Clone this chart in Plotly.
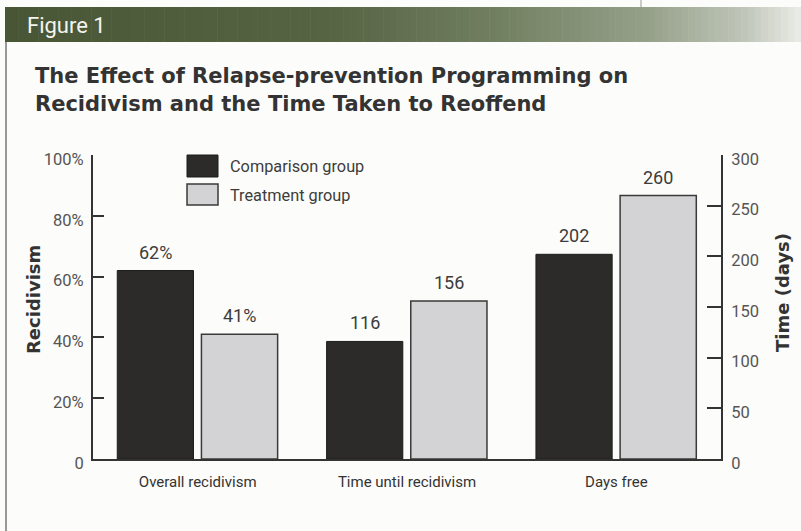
import plotly.graph_objects as go

# Data
categories = ["Overall recidivism", "Time until recidivism", "Days free"]
recid_comparison = [62]          # % reoffended, comparison group
recid_treatment = [41]           # % reoffended, treatment group
days_categories = ["Time until recidivism", "Days free"]
days_comparison = [116, 202]     # days
days_treatment = [156, 260]      # days
pct_ticks = [0, 20, 40, 60, 80, 100]
pct_labels = ["0", "20%", "40%", "60%", "80%", "100%"]
day_ticks = [0, 50, 100, 150, 200, 250, 300]
day_labels = ["0", "50", "100", "150", "200", "250", "300"]
series_names = ["Comparison group", "Treatment group"]

W, H = 801, 531
L, R, T, B = 93, 80, 155, 72
PW, PH = W - L - R, H - T - B

NARROW = "Roboto, Liberation Sans, Arial, sans-serif"
BOLD = "DejaVu Sans, Verdana, sans-serif"
DARK = "#2d2b29"
LIGHT = "#d3d3d6"
INK = "#333333"
BG = "#fcfcfa"


def px(x):
    return (x - L) / PW


def py(y):
    return (H - B - y) / PH


bar_w = 0.364
off_comp, off_treat = -0.384, 0.018
cat_px = PW / len(categories)

fig = go.Figure()
fig.add_trace(go.Bar(x=categories[:1], y=recid_comparison, name=series_names[0],
                     width=bar_w, offset=off_comp, yaxis="y",
                     marker=dict(color=DARK, line=dict(color="#1c1c1c", width=1))))
fig.add_trace(go.Bar(x=categories[:1], y=recid_treatment, name=series_names[1],
                     width=bar_w, offset=off_treat, yaxis="y",
                     marker=dict(color=LIGHT, line=dict(color="#3a3a3a", width=1.5))))
fig.add_trace(go.Bar(x=days_categories, y=days_comparison, name=series_names[0],
                     width=bar_w, offset=off_comp, yaxis="y2",
                     marker=dict(color=DARK, line=dict(color="#1c1c1c", width=1))))
fig.add_trace(go.Bar(x=days_categories, y=days_treatment, name=series_names[1],
                     width=bar_w, offset=off_treat, yaxis="y2",
                     marker=dict(color=LIGHT, line=dict(color="#3a3a3a", width=1.5))))

# Value labels above each bar
value_labels = []
for cats, vals, off, yref, fmt in [
        (categories[:1], recid_comparison, off_comp, "y", "{}%"),
        (categories[:1], recid_treatment, off_treat, "y", "{}%"),
        (days_categories, days_comparison, off_comp, "y2", "{}"),
        (days_categories, days_treatment, off_treat, "y2", "{}")]:
    for c, v in zip(cats, vals):
        value_labels.append(dict(
            x=c, y=v, xref="x", yref=yref, text=fmt.format(v), showarrow=False,
            xanchor="center", yanchor="bottom",
            xshift=(off + bar_w / 2) * cat_px, yshift=6,
            font=dict(family=NARROW, size=18, color="#3c3c3c")))

shapes = []
# Header band: olive gradient fading to light grey on the right
y0h, y1h = py(42), py(7)
stops = [(5, (72, 86, 54)), (330, (86, 100, 68)), (500, (114, 128, 98)),
         (650, (150, 161, 138)), (745, (192, 198, 186)), (801, (234, 236, 231))]
n = 120
for i in range(n):
    xa = 5 + (W - 5) * i / n
    xb = 5 + (W - 5) * (i + 1) / n + 0.6
    xm = (xa + xb) / 2
    for (p0, c0), (p1, c1) in zip(stops[:-1], stops[1:]):
        if p0 <= xm <= p1:
            t = (xm - p0) / (p1 - p0)
            c = tuple(round(a + (b - a) * t) for a, b in zip(c0, c1))
            break
    shapes.append(dict(type="rect", xref="paper", yref="paper",
                       x0=px(xa), x1=px(xb), y0=y0h, y1=y1h,
                       fillcolor="rgb(%d,%d,%d)" % c, line=dict(width=0),
                       layer="below"))
# Panel border lines
shapes.append(dict(type="line", xref="paper", yref="paper", x0=px(6), x1=px(6),
                   y0=py(42), y1=py(531), line=dict(color="#777", width=1.5)))
shapes.append(dict(type="line", xref="paper", yref="paper", x0=px(641), x1=px(641),
                   y0=py(0), y1=py(7), line=dict(color="#999", width=1)))
# Legend swatches
shapes.append(dict(type="rect", xref="paper", yref="paper", x0=px(187), x1=px(218),
                   y0=py(177), y1=py(155), fillcolor=DARK,
                   line=dict(color="#1c1c1c", width=1)))
shapes.append(dict(type="rect", xref="paper", yref="paper", x0=px(187), x1=px(218),
                   y0=py(205), y1=py(184), fillcolor=LIGHT,
                   line=dict(color="#3a3a3a", width=1.5)))

annotations = [
    dict(text="Figure 1", x=px(25), y=py(25), xanchor="left", yanchor="middle",
         font=dict(family=NARROW, size=22, color="#f4f4ee")),
    dict(text="<b>The Effect of Relapse-prevention Programming on</b>", x=px(33),
         y=py(76), xanchor="left", yanchor="middle",
         font=dict(family=BOLD, size=21, color="#333")),
    dict(text="<b>Recidivism and the Time Taken to Reoffend</b>", x=px(33), y=py(104),
         xanchor="left", yanchor="middle",
         font=dict(family=BOLD, size=21, color="#333")),
    dict(text="<b>Recidivism</b>", x=px(33), y=py(299), textangle=-90,
         xanchor="center", yanchor="middle",
         font=dict(family=BOLD, size=18, color=INK)),
    dict(text="<b>Time (days)</b>", x=px(782), y=py(293), textangle=-90,
         xanchor="center", yanchor="middle",
         font=dict(family=BOLD, size=18, color=INK)),
    dict(text=series_names[0], x=px(228), y=py(166), xanchor="left", yanchor="middle",
         font=dict(family=NARROW, size=16.3, color="#3c3c3c")),
    dict(text=series_names[1], x=px(228), y=py(195), xanchor="left", yanchor="middle",
         font=dict(family=NARROW, size=16.3, color="#3c3c3c")),
]
for a in annotations:
    a.update(xref="paper", yref="paper", showarrow=False)

fig.update_layout(
    width=W, height=H,
    margin=dict(l=L, r=R, t=T, b=B, pad=0),
    paper_bgcolor=BG, plot_bgcolor=BG,
    barmode="overlay", showlegend=False,
    shapes=shapes, annotations=annotations + value_labels,
    xaxis=dict(type="category", categoryorder="array", categoryarray=categories,
               range=[-0.5, 2.5], showline=True, linewidth=2, linecolor=INK,
               ticks="", showgrid=False, zeroline=False, ticklabelstandoff=8,
               tickfont=dict(family=NARROW, size=15, color="#333")),
    yaxis=dict(range=[0, 100], tickvals=pct_ticks, ticktext=pct_labels,
               showline=True, linewidth=2, linecolor=INK, ticks="inside",
               ticklen=11, tickwidth=2, tickcolor=INK, showgrid=False,
               zeroline=False, ticklabelstandoff=4, ticklabelshift=4,
               tickfont=dict(family=NARROW, size=16.5, color="#555")),
    yaxis2=dict(range=[0, 300], tickvals=day_ticks, ticktext=day_labels,
                overlaying="y", side="right", showline=True, linewidth=2,
                linecolor=INK, ticks="inside", ticklen=14, tickwidth=2,
                tickcolor=INK, showgrid=False, zeroline=False,
                ticklabelstandoff=5, ticklabelshift=4,
                tickfont=dict(family=NARROW, size=16.5, color="#555")),
)

fig.write_html("out.html")
